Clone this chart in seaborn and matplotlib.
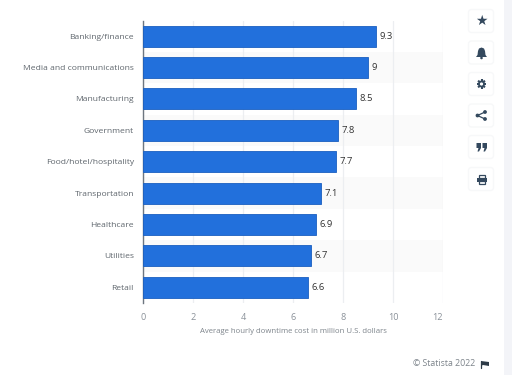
import matplotlib
matplotlib.use('Agg')
import matplotlib.pyplot as plt
import pandas as pd
import seaborn as sns
from matplotlib.patches import Circle, FancyBboxPatch, Polygon, Rectangle

industries = ['Banking/finance', 'Media and communications', 'Manufacturing',
              'Government', 'Food/hotel/hospitality', 'Transportation',
              'Healthcare', 'Utilities', 'Retail']
costs = [9.3, 9, 8.5, 7.8, 7.7, 7.1, 6.9, 6.7, 6.6]
value_labels = ['9.3', '9', '8.5', '7.8', '7.7', '7.1', '6.9', '6.7', '6.6']
x_ticks = [0, 2, 4, 6, 8, 10, 12]
x_title = 'Average hourly downtime cost in million U.S. dollars'
credit = '© Statista 2022'

W, H = 512, 375
ICON = '#34495e'

sns.set_theme(style='white', font='Open Sans')
fig = plt.figure(figsize=(W / 100, H / 100), dpi=100, facecolor='white')

# pixel overlay for the page furniture
page = fig.add_axes([0, 0, 1, 1], zorder=0)
page.set_xlim(0, W)
page.set_ylim(H, 0)
page.axis('off')
page.add_patch(Rectangle((504, 0), 8, H, color='#f3f4f8', lw=0))

ax = fig.add_axes([143 / W, 1 - 303 / H, 300 / W, 282.5 / H], zorder=1)
ax.patch.set_alpha(0)

df = pd.DataFrame({'industry': industries, 'cost': costs})
sns.barplot(data=df, x='cost', y='industry', color='#2270dc', saturation=1,
            width=0.67, edgecolor='#1a5fc0', linewidth=0.6, ax=ax, zorder=3)

for i in range(1, len(industries), 2):
    ax.axhspan(i - 0.5, i + 0.5, color='#fafafa', lw=0, zorder=0)

ax.set_xlim(0, 12)
ax.set_ylim(len(industries) - 0.5, -0.5)
ax.set_xticks(x_ticks)
ax.grid(axis='x', color='#eceef1', lw=0.9, zorder=1)
ax.set_axisbelow(True)
sns.despine(ax=ax, left=False, bottom=True)
ax.spines['left'].set_color('#6d7680')
ax.spines['left'].set_linewidth(1.0)
ax.tick_params(axis='x', length=0, pad=7.5, labelsize=6.6, labelcolor='#8a9199')
ax.tick_params(axis='y', length=0, pad=6.5, labelsize=6.1, labelcolor='#5f666d')
ax.get_xticklabels()[-1].set_ha('right')
ax.set_ylabel('')
ax.set_xlabel(x_title, fontsize=5.6, color='#7d848b', labelpad=4)

for i, (v, lab) in enumerate(zip(costs, value_labels)):
    ax.annotate(lab, (v, i), xytext=(2.6, 0), textcoords='offset points',
                va='center', ha='left', fontsize=6.8, color='#333333', zorder=4)

page.text(413, 364, credit, fontsize=6.3, color='#7d848b', ha='left', va='center')
page.add_patch(Polygon([(481, 361), (489, 362), (489, 366), (483, 365), (481, 366)],
                       color='#2d3a47', lw=0))
page.plot([481, 481], [361, 368], color='#2d3a47', lw=0.9)

# sidebar buttons
centers = [21, 52.5, 84, 115.5, 147, 179]
for cy in centers:
    page.add_patch(FancyBboxPatch((468.5, cy - 11.5), 25, 23,
                                  boxstyle='round,pad=0,rounding_size=3',
                                  fc='white', ec='#f7f8f9', lw=1.0))

page.text(481.5, 21, '\u2605', family='DejaVu Sans', fontsize=10, color=ICON,
          ha='center', va='center')

# bell
page.add_patch(Polygon([(481.5, 47.5), (484, 48.5), (485, 51), (485.5, 55), (487, 57),
                        (476, 57), (477.5, 55), (478, 51), (479, 48.5)],
                       color=ICON, lw=0))
page.add_patch(Circle((481.5, 58), 1.3, color=ICON, lw=0))

# gear
for dx, dy in [(4.8, 0), (3.4, 3.4), (0, 4.8), (-3.4, 3.4)]:
    page.plot([481.5 - dx, 481.5 + dx], [84 - dy, 84 + dy], color=ICON, lw=1.5,
              solid_capstyle='butt', zorder=3)
page.add_patch(Circle((481.5, 84), 3.4, fc=ICON, lw=0, zorder=4))
page.add_patch(Circle((481.5, 84), 1.6, fc='white', lw=0, zorder=5))

# share
share_pts = [(477.5, 115.5), (485, 112), (485, 119)]
page.plot([share_pts[1][0], share_pts[0][0], share_pts[2][0]],
          [share_pts[1][1], share_pts[0][1], share_pts[2][1]], color=ICON, lw=0.9)
for p in share_pts:
    page.add_patch(Circle(p, 1.9, color=ICON, lw=0))

# quote marks
for qx in (476.5, 482.5):
    page.add_patch(Polygon([(qx, 143), (qx + 4.5, 143), (qx + 4.5, 148), (qx + 2.5, 151.5),
                            (qx + 1, 151.5), (qx + 2, 148), (qx, 148)],
                           color=ICON, lw=0))

# printer
page.add_patch(Rectangle((478.5, 175), 6, 3, fc='white', ec=ICON, lw=0.9))
page.add_patch(Rectangle((476.5, 178), 10, 4, color=ICON, lw=0))
page.add_patch(Rectangle((478.5, 181), 6, 3, fc='white', ec=ICON, lw=0.9))

fig.savefig('out.png', dpi=100)
